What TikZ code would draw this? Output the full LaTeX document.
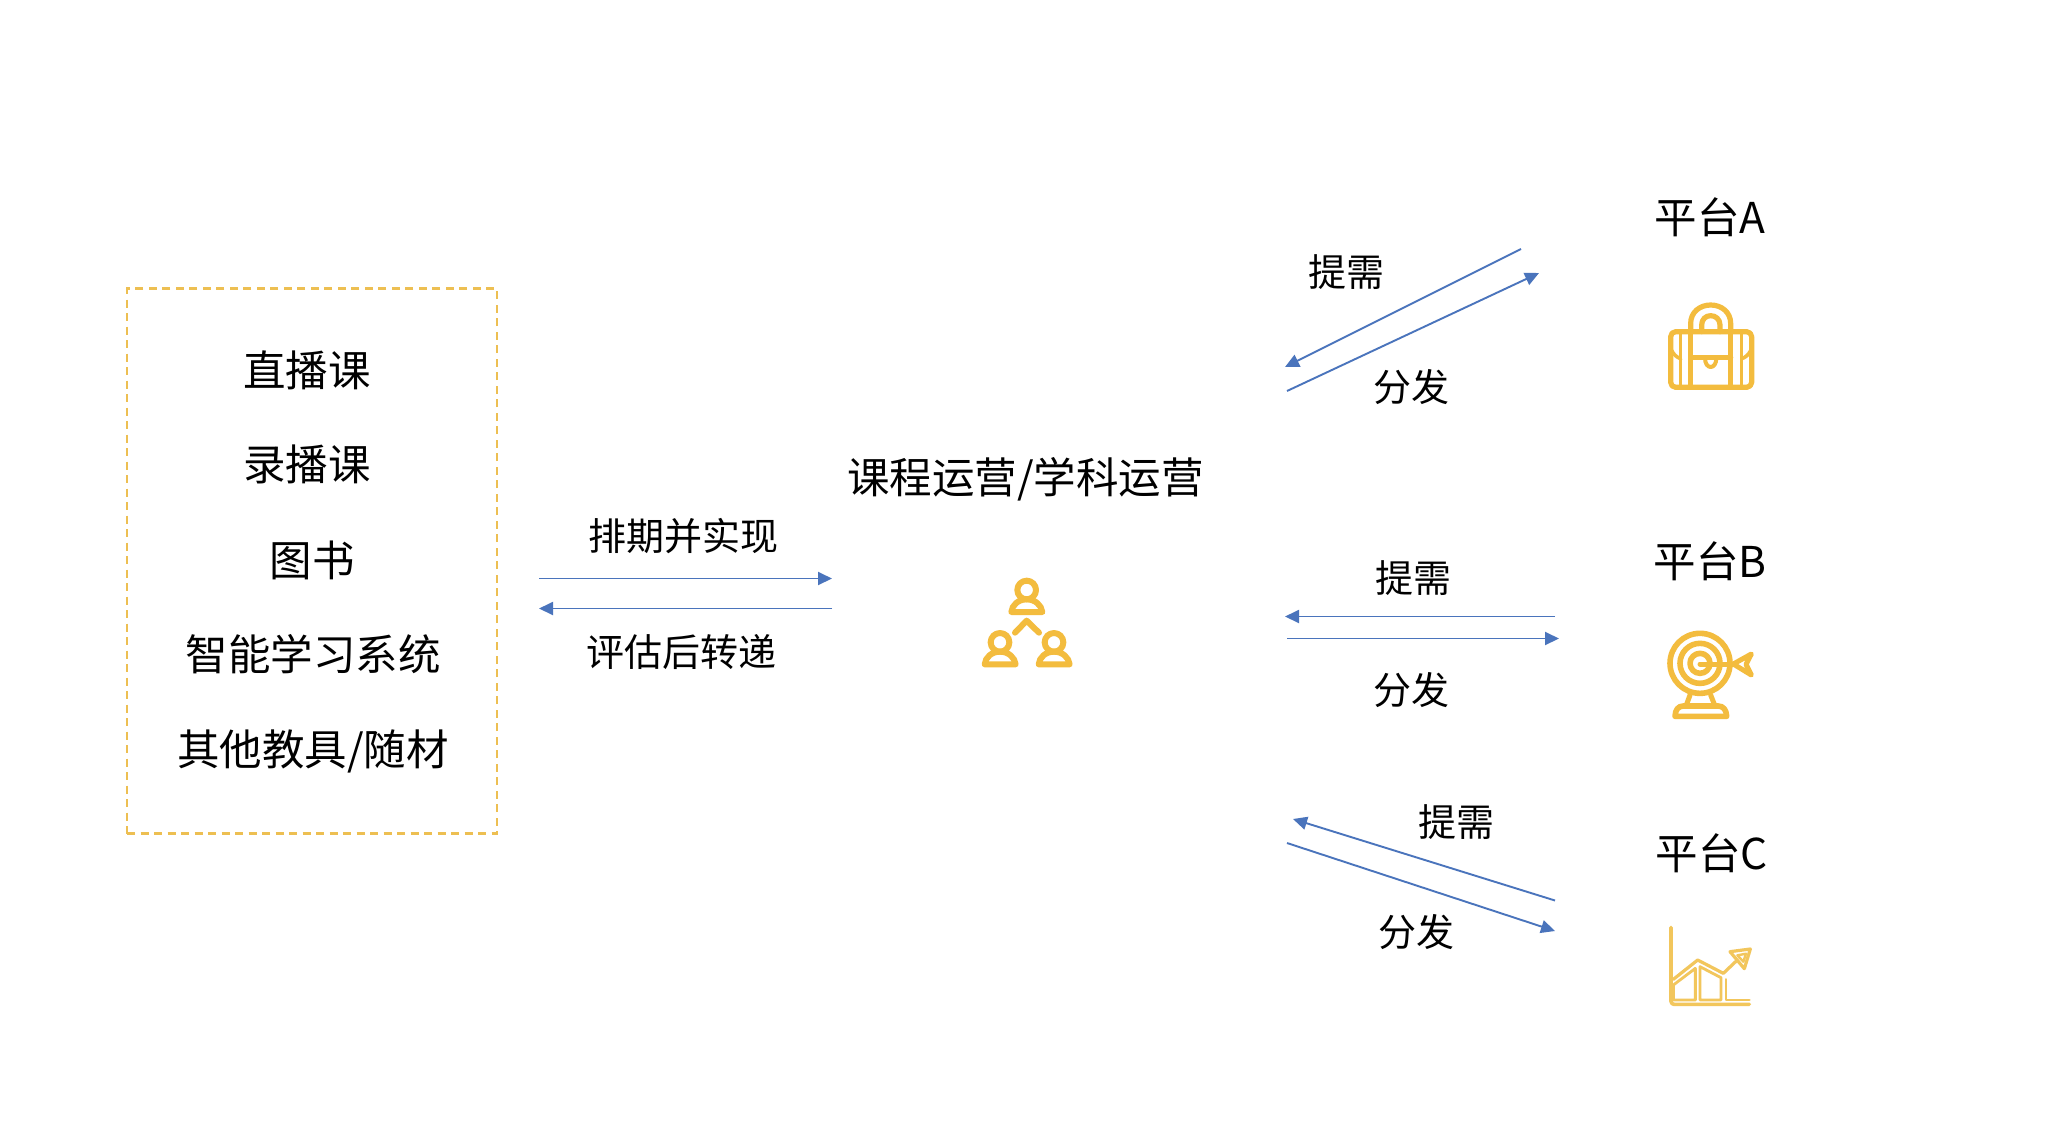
\documentclass[tikz,border=0pt]{standalone}
\usepackage{fontspec}
\setmainfont{Noto Sans CJK SC}
\usetikzlibrary{arrows.meta}
\definecolor{icony}{HTML}{F3BC3E}
\definecolor{chartc}{HTML}{F2C65C}
\definecolor{boxy}{HTML}{EDBF52}
\definecolor{arrowb}{HTML}{4A74BC}
\tikzset{
  lbl/.style={font=\fontsize{42.5}{42.5}\selectfont,text=black,inner sep=0pt,anchor=center},
  lblsm/.style={font=\fontsize{38}{38}\selectfont,text=black,inner sep=0pt,anchor=center},
  flow/.style={draw=arrowb,line width=1.9pt,-{Triangle[length=14pt,width=13pt]}},
  stroke/.style={draw=icony,line width=#1,line cap=round,line join=round},
  dashbox/.style={draw=boxy,line width=2.4pt,dash pattern=on 8pt off 5.5pt,minimum width=370pt,minimum height=545pt,inner sep=0pt}
}
\newcommand{\personicon}[2]{%
  \draw[stroke=6pt] (#1,#2) circle[radius=28pt];
  \draw[stroke=6pt] (#1-46,#2+66) .. controls (#1-44,#2+45) and (#1-25,#2+28) .. (#1,#2+28) .. controls (#1+25,#2+28) and (#1+44,#2+45) .. (#1+47,#2+66) -- cycle;
}
\begin{document}
\begin{tikzpicture}[x=1pt,y=-1pt]
\useasboundingbox (0,0) rectangle (2054,1144);
\fill[white] (0,0) rectangle (2054,1144);

\node[dashbox] (box) at (312,561) {};
\node[lbl] (t1) at (307,370) {直播课};
\node[lbl] (t2) at (307,464) {录播课};
\node[lbl] (t3) at (312,560) {图书};
\node[lbl] (t4) at (313,654.5) {智能学习系统};
\node[lbl] (t5) at (313,751) {其他教具/随材};

\node[lblsm] (plan) at (683,536) {排期并实现};
\node[lblsm] (eval) at (681,652) {评估后转递};
\coordinate (a1s) at (539,578.5); \coordinate (a1e) at (832,578.5);
\coordinate (a2s) at (832,608.5); \coordinate (a2e) at (539,608.5);
\draw[flow] (a1s) -- (a1e);
\draw[flow] (a2s) -- (a2e);

\node[lbl] (ops) at (1025.5,479) {课程运营/学科运营};

\node[lbl] (pa) at (1710,217) {平台A};
\node[lbl] (pb) at (1710,561) {平台B};
\node[lbl] (pc) at (1712,853) {平台C};

\node[lblsm] (na) at (1346,272) {提需};
\node[lblsm] (fa) at (1411,387) {分发};
\node[lblsm] (nb) at (1413.5,578) {提需};
\node[lblsm] (fb) at (1411,690) {分发};
\node[lblsm] (nc) at (1456.5,822) {提需};
\node[lblsm] (fc) at (1416.5,932) {分发};

\coordinate (ba1) at (1521,249); \coordinate (ba2) at (1285,367);
\coordinate (ba3) at (1287,391); \coordinate (ba4) at (1539,273);
\draw[flow] (ba1) -- (ba2);
\draw[flow] (ba3) -- (ba4);

\coordinate (bb1) at (1555,616.5); \coordinate (bb2) at (1285,616.5);
\coordinate (bb3) at (1287,638.5); \coordinate (bb4) at (1559,638.5);
\draw[flow] (bb1) -- (bb2);
\draw[flow] (bb3) -- (bb4);

\coordinate (bc1) at (1555,900.5); \coordinate (bc2) at (1293,819);
\coordinate (bc3) at (1287,843); \coordinate (bc4) at (1555,931);
\draw[flow] (bc1) -- (bc2);
\draw[flow] (bc3) -- (bc4);

% people icon
\begin{scope}[shift={(970,570)},scale=1/3]
  \personicon{170}{60}
  \personicon{90}{217}
  \personicon{252}{217}
  \draw[stroke=6pt] (135,188) -- (170,152) -- (207,188);
\end{scope}

% briefcase icon
\begin{scope}[shift={(1640,280)},scale=1/3]
  \draw[stroke=5.2pt,rounded corners=5pt] (92,155) rectangle (335,322);
  \draw[stroke=5.2pt] (152,155) -- (152,130) .. controls (152,97) and (179,75) .. (212,75) .. controls (245,75) and (272,97) .. (272,130) -- (272,155);
  \draw[stroke=5.2pt] (185,155) -- (185,135) .. controls (185,118) and (197,107) .. (212,107) .. controls (227,107) and (240,118) .. (240,135) -- (240,155);
  \draw[stroke=5.2pt] (152,155) -- (152,322);
  \draw[stroke=5.2pt] (272,155) -- (272,322);
  \draw[stroke=3.4pt] (122,155) -- (122,322);
  \draw[stroke=3.4pt] (305,155) -- (305,322);
  \draw[stroke=5.2pt] (152,232) -- (272,232);
  \draw[stroke=4pt] (195,234) .. controls (195,270) and (229,270) .. (229,234);
  \draw[stroke=3.6pt] (94,210) .. controls (102,225) and (110,232) .. (122,236);
  \draw[stroke=3.6pt] (333,210) .. controls (325,225) and (317,232) .. (305,236);
\end{scope}

% target icon
\begin{scope}[shift={(1650,620)},scale=1/3]
  \draw[stroke=5.6pt] (150,130) circle[radius=90pt];
  \draw[stroke=5.6pt] (150,130) circle[radius=60pt];
  \draw[stroke=5.6pt] (150,130) circle[radius=30pt];
  \draw[stroke=5pt] (150,132) -- (250,132);
  \draw[stroke=5pt] (250,132) -- (304,102) -- (288,133) -- (304,165) -- cycle;
  \draw[stroke=5pt] (120,225) -- (108,258);
  \draw[stroke=5pt] (182,225) -- (195,258);
  \draw[stroke=5.6pt] (75,289) .. controls (76,270) and (84,258) .. (100,258) -- (205,258) .. controls (220,258) and (229,270) .. (230,289) -- cycle;
\end{scope}

% chart icon
\begin{scope}[shift={(1650,910)},scale=1/3,icony/.style={}]
  \tikzset{stroke/.style={draw=chartc,line width=#1,line cap=round,line join=round}}
  \draw[stroke=3.6pt,rounded corners=3pt] (63,52) -- (63,283) -- (298,283);
  \draw[stroke=3.2pt] (70,208) -- (143,150) -- (220,190) -- (262,150);
  \draw[stroke=3.2pt] (240,125) -- (301,117) -- (283,176) -- cycle;
  \draw[stroke=2.4pt] (262,136) -- (288,131) -- (280,155) -- cycle;
  \draw[stroke=2.8pt] (70,225) -- (136,175) -- (136,270) -- (70,270) -- cycle;
  \draw[stroke=2.8pt] (150,170) -- (213,203) -- (213,270) -- (150,270) -- cycle;
  \draw[stroke=2.8pt] (228,208) -- (228,270) -- (298,270);
\end{scope}
\end{tikzpicture}
\end{document}
